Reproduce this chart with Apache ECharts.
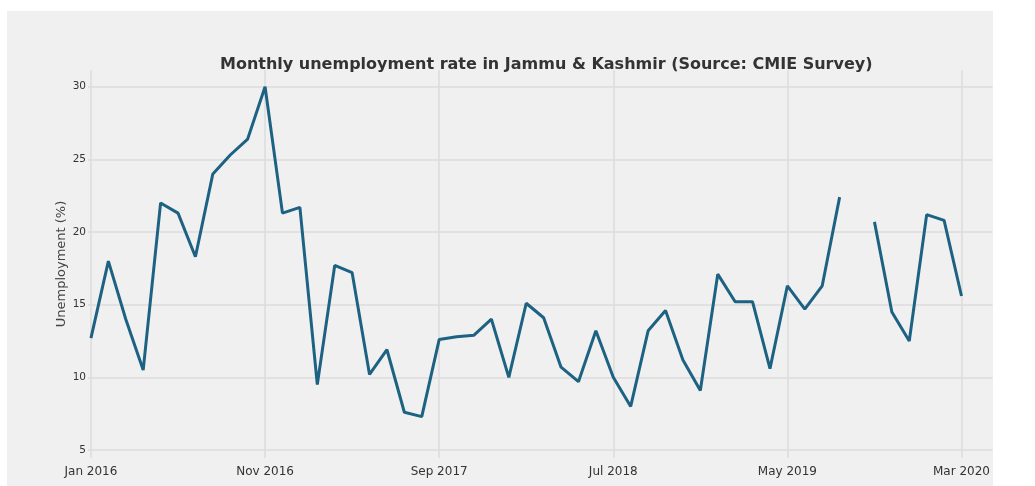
<!DOCTYPE html>
<html>
<head>
<meta charset="utf-8">
<script src="https://cdn.jsdelivr.net/npm/echarts@6/dist/echarts.min.js"></script>
<style>
  html, body { margin: 0; padding: 0; background: #ffffff; }
  #chart { position: absolute; left: 7px; top: 11px; width: 986px; height: 475px; background: #f0f0f0; }
</style>
</head>
<body>
<div id="chart"></div>
<script>
const months = [
  'Jan 2016','Feb 2016','Mar 2016','Apr 2016','May 2016','Jun 2016','Jul 2016','Aug 2016','Sep 2016','Oct 2016','Nov 2016','Dec 2016',
  'Jan 2017','Feb 2017','Mar 2017','Apr 2017','May 2017','Jun 2017','Jul 2017','Aug 2017','Sep 2017','Oct 2017','Nov 2017','Dec 2017',
  'Jan 2018','Feb 2018','Mar 2018','Apr 2018','May 2018','Jun 2018','Jul 2018','Aug 2018','Sep 2018','Oct 2018','Nov 2018','Dec 2018',
  'Jan 2019','Feb 2019','Mar 2019','Apr 2019','May 2019','Jun 2019','Jul 2019','Aug 2019','Sep 2019','Oct 2019','Nov 2019','Dec 2019',
  'Jan 2020','Feb 2020','Mar 2020'
];
const unemployment = [
  12.7, 18.0, 14.0, 10.5, 22.0, 21.3, 18.3, 24.0, 25.3, 26.4, 30.0, 21.3,
  21.7, 9.5, 17.7, 17.2, 10.2, 11.9, 7.6, 7.3, 12.6, 12.8, 12.9, 14.0,
  10.0, 15.1, 14.1, 10.7, 9.7, 13.2, 10.0, 8.0, 13.2, 14.6, 11.2, 9.1,
  17.1, 15.2, 15.2, 10.6, 16.3, 14.7, 16.3, 22.4, null, 20.7, 14.5, 12.5,
  21.2, 20.8, 15.6
];
const xTickMonths = ['Jan 2016','Nov 2016','Sep 2017','Jul 2018','May 2019','Mar 2020'];
const yTicks = [5, 10, 15, 20, 25, 30];

const xTickIdx = xTickMonths.map(m => months.indexOf(m));
const seriesData = unemployment.map((v, i) => [i, v]);

const chart = echarts.init(document.getElementById('chart'), null, { renderer: 'canvas' });
chart.setOption({
  backgroundColor: '#f0f0f0',
  animation: false,
  title: {
    text: 'Monthly unemployment rate in Jammu & Kashmir (Source: CMIE Survey)',
    left: 208,
    top: 41,
    textStyle: { fontFamily: 'DejaVu Sans', fontSize: 16, fontWeight: 'bold', color: '#333333' }
  },
  grid: { left: 81, right: 0, top: 59, bottom: 28, containLabel: false },
  xAxis: {
    type: 'value',
    min: -0.17,
    max: 51.78,
    axisLine: { show: false },
    axisTick: { show: false, customValues: xTickIdx },
    axisLabel: {
      customValues: xTickIdx,
      formatter: v => months[Math.round(v)] || '',
      fontFamily: 'DejaVu Sans', fontSize: 12, color: '#333333', margin: 8
    },
    splitLine: { show: true, lineStyle: { color: '#dcdcdc', width: 1.5 } }
  },
  yAxis: {
    type: 'value',
    min: 4.45,
    max: 31.15,
    name: 'Unemployment (%)',
    nameLocation: 'middle',
    nameGap: 20,
    nameMoveOverlap: false,
    nameTextStyle: { fontFamily: 'DejaVu Sans', fontSize: 13, color: '#444444' },
    axisLine: { show: false },
    axisTick: { show: false, customValues: yTicks },
    axisLabel: {
      customValues: yTicks,
      fontFamily: 'DejaVu Sans', fontSize: 10.5, color: '#333333', margin: 2
    },
    splitLine: { show: true, lineStyle: { color: '#dcdcdc', width: 1.5 } }
  },
  series: [{
    type: 'line',
    data: seriesData,
    connectNulls: false,
    showSymbol: false,
    symbol: 'none',
    lineStyle: { color: '#1d6282', width: 3 },
    itemStyle: { color: '#1d6282' }
  }]
});
</script>
</body>
</html>
